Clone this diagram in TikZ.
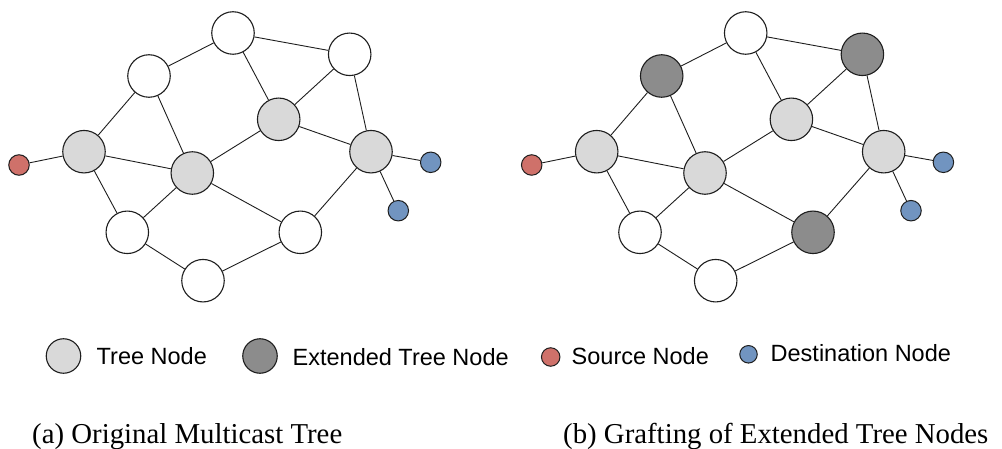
\documentclass[tikz,border=0pt]{standalone}
\usepackage{fontspec}
\setmainfont{Liberation Serif}
\newfontfamily\legendsans{Liberation Sans}

\definecolor{treegray}{RGB}{217,217,217}
\definecolor{extgray}{RGB}{140,140,140}
\definecolor{srcred}{RGB}{207,113,106}
\definecolor{dstblue}{RGB}{113,148,192}
\definecolor{inkline}{RGB}{30,30,30}

\tikzset{
  netnode/.style={circle, draw=inkline, line width=1.1pt, minimum size=42.5pt, inner sep=0pt},
  plainnode/.style={netnode, fill=white},
  treenode/.style={netnode, fill=treegray},
  extnode/.style={netnode, fill=extgray},
  endnode/.style={circle, draw=inkline, line width=1pt, minimum size=20.5pt, inner sep=0pt},
  srcnode/.style={endnode, fill=srcred},
  dstnode/.style={endnode, fill=dstblue},
  link/.style={draw=inkline, line width=0.9pt},
  legendtext/.style={font=\legendsans\fontsize{23.5}{28}\selectfont, anchor=west, inner sep=0pt},
  captiontext/.style={font=\fontsize{28.8}{34}\selectfont, anchor=base west, inner sep=0pt},
}

% One network panel: #1 name prefix, #2/#3/#4 styles of the three grafting candidates
\newcommand\multicastnet[4]{%
  \node[srcnode]   (#1S) at (19,165)      {};
  \node[treenode]  (#1A) at (84,151.7)    {};
  \node[#2]        (#1B) at (149,76)      {};
  \node[plainnode] (#1C) at (233,33)      {};
  \node[#3]        (#1D) at (349.7,54.3)  {};
  \node[treenode]  (#1E) at (278.7,119.3) {};
  \node[treenode]  (#1F) at (192.3,173)   {};
  \node[treenode]  (#1G) at (371,151.7)   {};
  \node[dstnode]   (#1H) at (430.7,162.3) {};
  \node[dstnode]   (#1I) at (398.3,210.7) {};
  \node[plainnode] (#1J) at (127.3,232.3) {};
  \node[plainnode] (#1K) at (203,280.7)   {};
  \node[#4]        (#1L) at (300.3,232.3) {};
  \draw[link] (#1S) -- (#1A);
  \draw[link] (#1A) -- (#1B);
  \draw[link] (#1A) -- (#1F);
  \draw[link] (#1A) -- (#1J);
  \draw[link] (#1B) -- (#1C);
  \draw[link] (#1B) -- (#1F);
  \draw[link] (#1C) -- (#1D);
  \draw[link] (#1C) -- (#1E);
  \draw[link] (#1D) -- (#1E);
  \draw[link] (#1D) -- (#1G);
  \draw[link] (#1E) -- (#1F);
  \draw[link] (#1E) -- (#1G);
  \draw[link] (#1F) -- (#1J);
  \draw[link] (#1F) -- (#1L);
  \draw[link] (#1G) -- (#1L);
  \draw[link] (#1G) -- (#1H);
  \draw[link] (#1G) -- (#1I);
  \draw[link] (#1J) -- (#1K);
  \draw[link] (#1K) -- (#1L);
}

\begin{document}
\begin{tikzpicture}[x=1pt, y=-1pt]
  \useasboundingbox (0,0) rectangle (1002,449);

  % (a) original multicast tree
  \multicastnet{a}{plainnode}{plainnode}{plainnode}

  % (b) the same network with grafted nodes
  \begin{scope}[xshift=512.7pt]
    \multicastnet{b}{extnode}{extnode}{extnode}
  \end{scope}

  % legend
  \node[treenode, minimum size=34.5pt] (legTree) at (63.5,356) {};
  \node[legendtext] (legTreeTxt) at (96.5,356.3) {Tree Node};
  \node[extnode, minimum size=34.5pt] (legExt) at (260,356) {};
  \node[legendtext] (legExtTxt) at (292.5,357) {Extended Tree Node};
  \node[srcnode, minimum size=18.5pt] (legSrc) at (550.7,357) {};
  \node[legendtext] (legSrcTxt) at (571.5,356) {Source Node};
  \node[dstnode, minimum size=17.5pt] (legDst) at (748.5,354.3) {};
  \node[legendtext] (legDstTxt) at (770.5,353) {Destination Node};

  % captions
  \node[captiontext] (capA) at (32,443) {(a) Original Multicast Tree};
  \node[captiontext] (capB) at (563,443) {(b) Grafting of Extended Tree Nodes};
\end{tikzpicture}
\end{document}
